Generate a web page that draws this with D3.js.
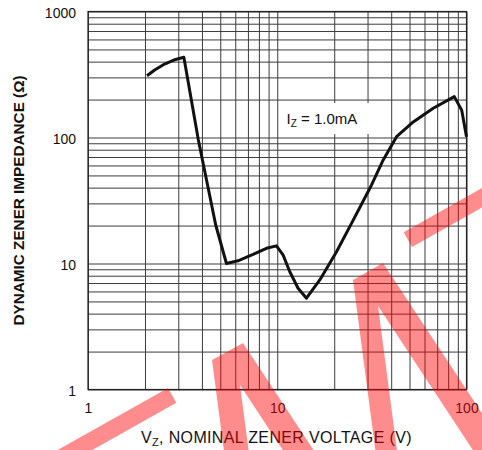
<!DOCTYPE html>
<html>
<head>
<meta charset="utf-8">
<script src="https://cdn.jsdelivr.net/npm/d3@7/dist/d3.min.js"></script>
<style>
  body { margin: 0; background: #fff; }
  svg { display: block; font-family: "Liberation Sans", Arial, sans-serif; }
</style>
</head>
<body>
<div id="vis"></div>
<script>
// frame constants
const FRAME_WIDTH = 482;
const FRAME_HEIGHT = 450;
const MARGINS = {left: 88, right: 15.5, top: 11.5, bottom: 60.5};
const VIS_WIDTH = FRAME_WIDTH - MARGINS.left - MARGINS.right;
const VIS_HEIGHT = FRAME_HEIGHT - MARGINS.top - MARGINS.bottom;

// data
const X_TICKS = [1, 10, 100];
const Y_TICKS = [1, 10, 100, 1000];
const VZ = [2.05, 2.25, 2.54, 2.84, 3.21, 3.83, 4.73, 5.39, 6.2, 7.45, 8.77, 9.9,
            10.73, 11.65, 12.88, 14.27, 16.78, 20.57, 25.2, 31.5, 36.3,
            42.7, 52.3, 66.7, 86.2, 94.3, 100];
const ZZ = [309, 343, 383, 412, 433, 95.5, 20.2, 10.0, 10.5, 11.8, 13.2, 13.8,
            11.7, 8.6, 6.36, 5.3, 7.4, 12.4, 22.1, 42, 66.3,
            101.5, 133, 170.5, 211, 165, 101.5];
const X_TITLE = ["V", "Z", ", NOMINAL ZENER VOLTAGE (V)"];
const Y_TITLE = "DYNAMIC ZENER IMPEDANCE (Ω)";
const NOTE = ["I", "Z", " = 1.0mA"];
const NOTE_AT = [11.2, 128];

const FRAME = d3.select("#vis")
  .append("svg")
    .attr("width", FRAME_WIDTH)
    .attr("height", FRAME_HEIGHT);

const X_SCALE = d3.scaleLog().domain([1, 100]).range([0, VIS_WIDTH]);
const Y_SCALE = d3.scaleLog().domain([1, 1000]).range([VIS_HEIGHT, 0]);

const PLOT = FRAME.append("g")
  .attr("transform", "translate(" + MARGINS.left + "," + MARGINS.top + ")");

// grid lines, every 1..9 in each decade
PLOT.append("g")
  .attr("transform", "translate(0," + VIS_HEIGHT + ")")
  .call(d3.axisBottom(X_SCALE).tickValues(X_SCALE.ticks()).tickSize(-VIS_HEIGHT).tickFormat(""))
  .call(g => g.select(".domain").remove())
  .selectAll("line").attr("stroke", "#3c3c3c");

PLOT.append("g")
  .call(d3.axisLeft(Y_SCALE).tickValues(Y_SCALE.ticks()).tickSize(-VIS_WIDTH).tickFormat(""))
  .call(g => g.select(".domain").remove())
  .selectAll("line").attr("stroke", "#3c3c3c");

PLOT.append("rect")
  .attr("width", VIS_WIDTH)
  .attr("height", VIS_HEIGHT)
  .attr("fill", "none")
  .attr("stroke", "#222")
  .attr("stroke-width", 1.2);

// tick labels
PLOT.append("g")
  .attr("transform", "translate(0," + VIS_HEIGHT + ")")
  .call(d3.axisBottom(X_SCALE).tickValues(X_TICKS).tickSize(0).tickPadding(14).tickFormat(d3.format("d")))
  .call(g => g.select(".domain").remove())
  .selectAll("text").attr("font-size", "14px").attr("fill", "#111").attr("font-family", null);

PLOT.append("g")
  .call(d3.axisLeft(Y_SCALE).tickValues(Y_TICKS).tickSize(0).tickPadding(12).tickFormat(d3.format("d")))
  .call(g => g.select(".domain").remove())
  .selectAll("text").attr("font-size", "14px").attr("fill", "#111").attr("font-family", null)
  .attr("dy", "0.45em");

// annotation with white box behind
const noteX = X_SCALE(NOTE_AT[0]);
const noteY = Y_SCALE(NOTE_AT[1]);
PLOT.append("rect")
  .attr("x", noteX - 4)
  .attr("y", noteY - 21)
  .attr("width", 88)
  .attr("height", 31)
  .attr("fill", "#fff");
const note = PLOT.append("text")
  .attr("x", noteX)
  .attr("y", noteY)
  .attr("font-size", "15px")
  .attr("fill", "#111");
note.append("tspan").text(NOTE[0]);
note.append("tspan").attr("font-size", "10px").attr("dy", 3).text(NOTE[1]);
note.append("tspan").attr("dy", -3).text(NOTE[2]);

// impedance curve
const LINE = d3.line()
  .x((d, i) => X_SCALE(VZ[i]))
  .y((d, i) => Y_SCALE(ZZ[i]));

PLOT.append("path")
  .datum(VZ)
  .attr("d", LINE)
  .attr("fill", "none")
  .attr("stroke", "#111")
  .attr("stroke-width", 3)
  .attr("stroke-linejoin", "round");

// axis titles
const xt = FRAME.append("text")
  .attr("x", 141)
  .attr("y", 443)
  .attr("font-size", "16px")
  .attr("letter-spacing", "0.35px")
  .attr("fill", "#111");
xt.append("tspan").text(X_TITLE[0]);
xt.append("tspan").attr("font-size", "11px").attr("dy", 3).text(X_TITLE[1]);
xt.append("tspan").attr("dy", -3).text(X_TITLE[2]);

FRAME.append("text")
  .attr("transform", "translate(24," + (MARGINS.top + VIS_HEIGHT / 2) + ") rotate(-90)")
  .attr("text-anchor", "middle")
  .attr("font-size", "15px")
  .attr("font-weight", "bold")
  .attr("fill", "#111")
  .attr("textLength", 250)
  .attr("lengthAdjust", "spacingAndGlyphs")
  .text(Y_TITLE);

// red preview stamp laid over the scan
const STAMP = FRAME.append("g")
  .attr("fill", "#ff0000")
  .attr("fill-opacity", 0.45);

function bar(p, q, w) {
  // band from p to q with width w
  const dx = q[0] - p[0], dy = q[1] - p[1];
  const l = Math.hypot(dx, dy);
  const nx = -dy / l * w, ny = dx / l * w;
  return [p, q, [q[0] + nx, q[1] + ny], [p[0] + nx, p[1] + ny]];
}

function peak(tl, pk, nt, dl, dr) {
  const down = (pt, d) => {
    const t = (470 - pt[1]) / d[1];
    return [pt[0] + d[0] * t, 470];
  };
  return [tl, pk, down(pk, dr), down(nt, dr), nt, down(nt, dl), down(tl, dl)];
}

const DL = [0.13, 0.99], DR = [0.55, 0.835];
const shapes = [
  bar([168, 388], [38, 461], -17),
  peak([212, 360], [243, 343], [240, 385], DL, DR),
  peak([353, 280], [383, 263], [378, 306], DL, DR),
  bar([412, 247], [545, 172], -17)
];

STAMP.selectAll("polygon")
  .data(shapes)
  .enter()
  .append("polygon")
  .attr("points", d => d.map(p => p.join(",")).join(" "));
</script>
</body>
</html>
